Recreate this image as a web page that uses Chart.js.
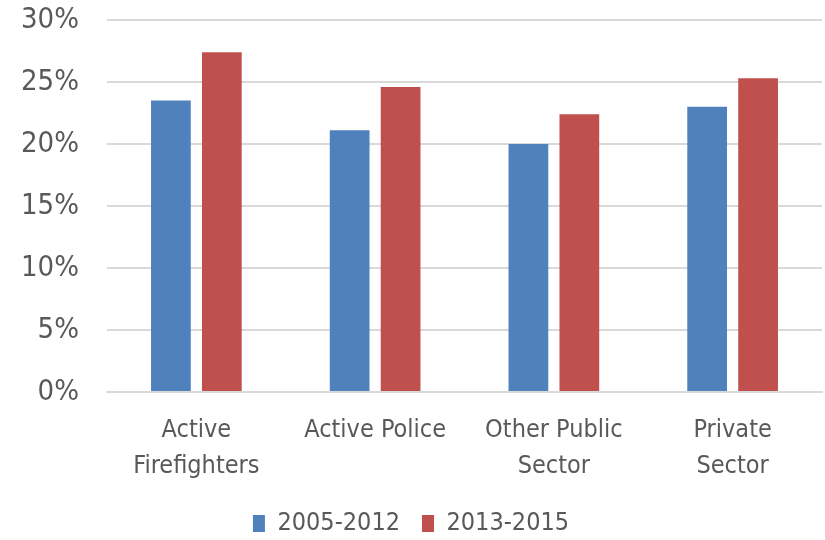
<!DOCTYPE html>
<html><head><meta charset="utf-8">
<script src="https://cdn.jsdelivr.net/npm/chart.js@4/dist/chart.umd.min.js"></script>
<style>html,body{margin:0;padding:0;background:#fff}canvas{display:block}</style>
</head><body>
<canvas id="c" width="825" height="540"></canvas>
<script>
const categories = [["Active","Firefighters"], "Active Police", ["Other Public","Sector"], ["Private","Sector"]];
const series1Name = "2005-2012";
const series2Name = "2013-2015";
const series1 = [23.5, 21.1, 20.0, 23.0];
const series2 = [27.4, 24.6, 22.4, 25.3];
const yTicks = [0, 5, 10, 15, 20, 25, 30];

const FONT = "'DejaVu Sans Condensed', sans-serif";
new Chart(document.getElementById('c'), {
  type: 'bar',
  data: {
    labels: categories,
    datasets: [
      {label: series1Name, data: series1, backgroundColor: '#4F81BD', categoryPercentage: 0.57, barPercentage: 0.78},
      {label: series2Name, data: series2, backgroundColor: '#C0504D', categoryPercentage: 0.57, barPercentage: 0.78}
    ]
  },
  options: {
    responsive: false,
    animation: false,
    layout: {padding: {left: 0, right: 3, top: 20, bottom: -6}},
    plugins: {
      tooltip: {enabled: false},
      legend: {
        position: 'bottom',
        labels: {boxWidth: 12, boxHeight: 17, padding: 22, color: '#595959', font: {family: FONT, size: 25}}
      }
    },
    scales: {
      x: {
        grid: {display: false, drawTicks: false},
        border: {color: '#d9d9d9', width: 2},
        afterFit: s => { s.height = 97; },
        ticks: {color: '#595959', font: {family: FONT, size: 25, lineHeight: 1.45}, padding: 20, maxRotation: 0, autoSkip: false}
      },
      y: {
        min: 0, max: 30,
        afterBuildTicks: (s) => { s.ticks = yTicks.map(v => ({value: v})); },
        afterFit: s => { s.width = 107; s.paddingTop = 0; s.paddingBottom = 0; },
        grid: {color: '#d9d9d9', lineWidth: 2, drawTicks: false},
        border: {display: false},
        ticks: {color: '#595959', font: {family: FONT, size: 29}, padding: 28, callback: v => v + '%'}
      }
    }
  }
});
</script>
</body></html>
